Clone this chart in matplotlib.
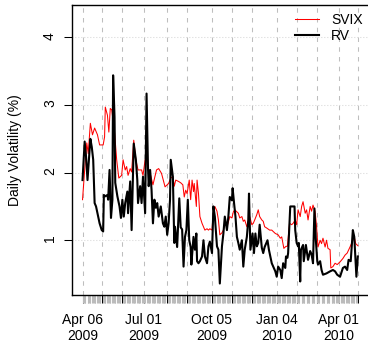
import numpy as np
import pandas as pd
import matplotlib
matplotlib.use('Agg')
import matplotlib.pyplot as plt

plt.rcParams['font.family'] = ['Liberation Sans', 'DejaVu Sans']
plt.rcParams['font.size'] = 10

start = pd.Timestamp('2009-04-06')

# days since 2009-04-06, daily volatility in %
svix_day = [0, 3, 6, 8, 11, 14, 17, 21, 24, 29,
            31, 32, 35, 37, 39, 41, 45, 48, 51, 55,
            57, 60, 62, 64, 67, 69, 72, 75, 78, 83,
            85, 88, 90, 92, 95, 99, 104, 107, 111, 116,
            121, 124, 127, 129, 131, 135, 138, 141, 143, 145,
            147, 150, 152, 154, 156, 157, 160, 161, 163, 165,
            168, 170, 172, 175, 177, 179, 182, 184, 186, 189,
            191, 193, 196, 198, 200, 203, 205, 207, 210, 212,
            214, 217, 219, 221, 224, 226, 228, 231, 233, 235,
            238, 240, 242, 245, 247, 249, 252, 254, 256, 259,
            263, 266, 271, 275, 278, 280, 283, 286, 288, 291,
            294, 296, 299, 301, 303, 306, 308, 310, 313, 315,
            317, 320, 322, 324, 327, 329, 331, 334, 336, 338,
            341, 343, 345, 348, 349, 352, 355, 358, 362, 366,
            369, 372, 376, 380, 382, 384, 387]
svix = [1.60, 2.04, 2.44, 2.28, 2.73, 2.56, 2.66, 2.56, 2.41, 2.41,
        2.53, 2.97, 2.85, 2.60, 2.95, 2.93, 2.60, 2.19, 1.92, 1.96,
        2.19, 2.04, 2.09, 1.96, 2.06, 2.01, 2.48, 2.19, 2.04, 2.04,
        1.96, 2.19, 2.24, 2.04, 1.99, 1.82, 2.04, 2.06, 1.99, 1.79,
        1.84, 1.92, 1.94, 1.80, 1.89, 1.87, 1.85, 1.82, 1.64, 1.74,
        1.69, 1.89, 1.60, 1.89, 1.72, 1.84, 1.50, 1.89, 1.69, 1.35,
        1.25, 1.20, 1.15, 1.17, 1.15, 1.17, 1.15, 1.45, 1.50, 1.43,
        1.30, 1.08, 1.11, 1.15, 1.25, 1.20, 1.27, 1.35, 1.33, 1.42,
        1.45, 1.42, 1.40, 1.33, 1.35, 1.28, 1.30, 1.20, 1.28, 1.35,
        1.23, 1.25, 1.30, 1.38, 1.45, 1.35, 1.30, 1.28, 1.20, 1.18,
        1.15, 1.15, 1.10, 1.08, 1.03, 1.05, 0.88, 0.91, 0.91, 1.25,
        1.23, 1.25, 1.30, 1.23, 1.45, 1.35, 1.50, 1.57, 1.40, 1.45,
        1.30, 1.50, 1.43, 1.52, 1.42, 1.20, 0.90, 1.00, 0.95, 1.03,
        0.90, 1.00, 0.88, 0.86, 0.59, 0.61, 0.66, 0.64, 0.68, 0.73,
        0.78, 0.81, 0.90, 1.00, 1.05, 0.95, 0.92]

rv_day = [0, 3, 5, 7, 9, 11, 13, 15, 17, 19,
          21, 24, 27, 29, 30, 32, 35, 36, 38, 40,
          42, 43, 45, 46, 49, 52, 54, 56, 58, 60,
          63, 64, 67, 69, 72, 75, 77, 78, 81, 83,
          85, 88, 90, 92, 93, 95, 97, 99, 101, 103,
          105, 107, 110, 113, 115, 117, 119, 121, 123, 124,
          127, 129, 130, 133, 136, 138, 140, 142, 144, 146,
          148, 150, 152, 153, 156, 158, 160, 161, 163, 165,
          168, 170, 172, 175, 177, 179, 182, 184, 186, 189,
          191, 193, 196, 198, 200, 203, 205, 207, 210, 211,
          213, 215, 217, 219, 221, 224, 226, 228, 231, 233,
          234, 236, 239, 241, 243, 245, 247, 249, 252, 254,
          256, 260, 262, 266, 271, 273, 275, 278, 280, 282,
          285, 286, 288, 289, 292, 298, 299, 301, 303, 304,
          306, 307, 310, 311, 314, 315, 317, 320, 322, 324,
          326, 328, 330, 331, 334, 336, 338, 343, 348, 352,
          355, 358, 362, 366, 369, 372, 374, 377, 380, 382,
          383, 385, 387]
rv = [1.89, 2.46, 2.23, 1.89, 2.19, 2.50, 2.38, 2.19, 1.55, 1.50,
      1.40, 1.25, 1.15, 1.13, 1.67, 1.65, 1.67, 1.60, 2.04, 1.33,
      1.60, 3.44, 2.82, 1.85, 1.65, 1.50, 1.33, 1.60, 1.35, 1.55,
      1.72, 1.40, 1.87, 1.15, 2.43, 2.19, 1.89, 1.55, 1.80, 1.55,
      1.94, 1.40, 3.17, 2.09, 1.80, 2.04, 1.75, 1.25, 1.60, 1.48,
      1.55, 1.35, 1.50, 1.25, 1.20, 1.35, 1.08, 1.25, 1.60, 2.19,
      1.94, 0.96, 1.20, 0.90, 1.62, 1.19, 1.16, 0.61, 1.05, 1.15,
      1.60, 1.00, 0.90, 0.64, 1.05, 0.86, 1.10, 0.69, 0.66, 0.69,
      0.76, 1.00, 0.76, 0.66, 0.91, 0.98, 0.81, 1.50, 1.35, 0.91,
      0.86, 0.36, 0.91, 1.10, 1.35, 1.15, 1.35, 1.64, 1.59, 1.77,
      1.55, 1.35, 1.05, 0.96, 0.86, 1.00, 0.61, 0.86, 1.05, 1.30,
      1.69, 0.86, 1.10, 0.81, 1.10, 0.91, 0.96, 1.23, 0.89, 0.81,
      0.90, 1.00, 0.86, 0.66, 0.54, 0.46, 0.61, 0.56, 0.44, 0.66,
      0.59, 0.76, 0.74, 0.81, 1.50, 1.50, 1.15, 0.96, 0.91, 0.96,
      0.39, 0.86, 0.93, 0.69, 0.93, 0.86, 0.71, 0.84, 0.79, 0.66,
      1.47, 1.00, 0.69, 0.64, 0.69, 0.56, 0.49, 0.51, 0.54, 0.56,
      0.54, 0.49, 0.46, 0.59, 0.61, 0.56, 0.71, 0.69, 1.15, 1.05,
      0.86, 0.46, 0.76]

tick_dates = ['2009-04-06', '2009-05-04', '2009-06-01', '2009-07-01', '2009-08-03',
              '2009-08-31', '2009-10-05', '2009-11-02', '2009-11-30', '2010-01-04',
              '2010-02-01', '2010-03-01', '2010-04-01', '2010-04-28']
tick_labels = ['Apr 06\n2009', '', '', 'Jul 01\n2009', '', '', 'Oct 05\n2009',
               '', '', 'Jan 04\n2010', '', '', 'Apr 01\n2010', '']
yticks = [1, 2, 3, 4]

svix_t = start + pd.to_timedelta(svix_day, unit='D')
rv_t = start + pd.to_timedelta(rv_day, unit='D')
major = pd.to_datetime(tick_dates)
obs = pd.bdate_range(tick_dates[0], tick_dates[-1])
obs = obs[~obs.isin(major)]

W, H = 368, 342
fig = plt.figure(figsize=(W / 100, H / 100), dpi=100)
ax = fig.add_axes([72 / W, 47 / H, 297 / W, 290 / H])

ax.plot(svix_t, svix, color='#FF0000', lw=0.75, label='SVIX')
ax.plot(rv_t, rv, color='black', lw=1.5, label='RV')

ax.set_xlim(start - pd.Timedelta(days=14.8), start + pd.Timedelta(days=402.7))
ax.set_ylim(0.19, 4.48)

ax.set_xticks(major)
ax.set_xticklabels(tick_labels)
ax.set_xticks(obs, minor=True)
ax.set_yticks(yticks)
ax.set_yticklabels([str(v) for v in yticks])

px = 0.72
ax.tick_params(axis='x', which='major', length=8 * px, width=0.75, color='black',
               pad=7, labelsize=10)
ax.tick_params(axis='x', which='minor', length=8 * px, width=0.75, color='#BBBBBB')
ax.tick_params(axis='y', length=8 * px, width=0.75, labelrotation=90, pad=5, labelsize=10)
for lab in ax.get_xticklabels():
    lab.set_linespacing(1.2)

ax.grid(axis='x', which='major', color='#BEBEBE', lw=0.75, linestyle=(0, (6 * px, 7 * px)))
ax.grid(axis='y', which='major', color='#C8C8C8', lw=0.75, linestyle=(0, (1 * px, 3 * px)))
ax.set_axisbelow(True)

for s in ['left', 'top', 'bottom']:
    ax.spines[s].set_linewidth(1.0)
ax.spines['right'].set_visible(False)

fig.text(15 / W, 1 - 150 / H, 'Daily Volatility (%)', rotation=90,
         ha='center', va='center', fontsize=10)

ax.legend(loc='upper right', bbox_to_anchor=(363 / W, 1 - 13 / H),
          bbox_transform=fig.transFigure, frameon=False, fontsize=10,
          handlelength=1.75, handletextpad=0.9, labelspacing=0.15,
          borderpad=0, borderaxespad=0)

fig.savefig('out.png', dpi=100)
